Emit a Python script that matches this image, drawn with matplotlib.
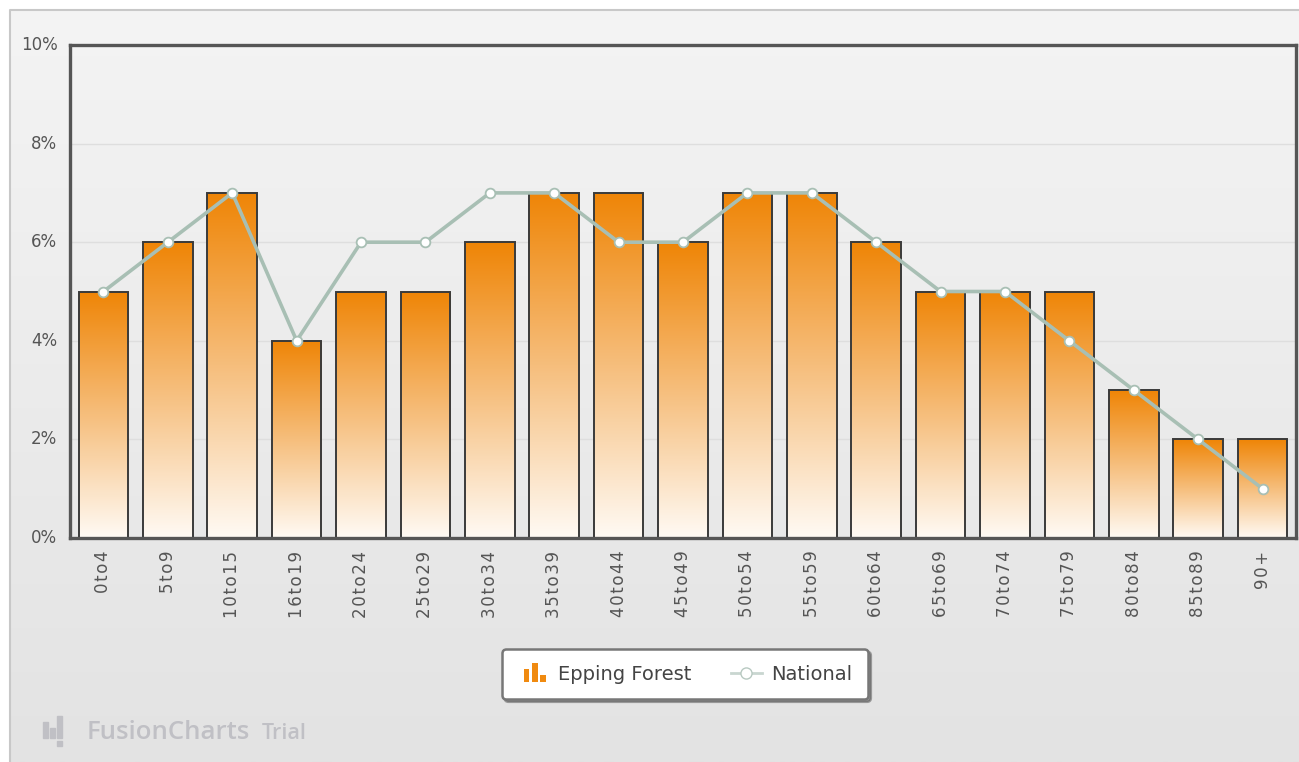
import numpy as np
import matplotlib
matplotlib.use("Agg")
import matplotlib.pyplot as plt
from matplotlib.patches import Rectangle
from matplotlib.lines import Line2D
from matplotlib.legend_handler import HandlerBase
from matplotlib.colors import LinearSegmentedColormap

categories = ["0to4", "5to9", "10to15", "16to19", "20to24", "25to29", "30to34",
              "35to39", "40to44", "45to49", "50to54", "55to59", "60to64", "65to69",
              "70to74", "75to79", "80to84", "85to89", "90+"]
epping = [5, 6, 7, 4, 5, 5, 6, 7, 7, 6, 7, 7, 6, 5, 5, 5, 3, 2, 2]
national = [5, 6, 7, 4, 6, 6, 7, 7, 6, 6, 7, 7, 6, 5, 5, 4, 3, 2, 1]
yticks = [0, 2, 4, 6, 8, 10]
ytick_labels = ["0%", "2%", "4%", "6%", "8%", "10%"]

W, H = 1299, 762
fig = plt.figure(figsize=(W / 100, H / 100), dpi=100)
fig.patch.set_facecolor("white")

# background axes in pixel coordinates
bg = fig.add_axes([0, 0, 1, 1], zorder=-5)
bg.set_xlim(0, W)
bg.set_ylim(H, 0)
bg.axis("off")
grad = np.linspace(0, 1, 256).reshape(-1, 1)
bg_cmap = LinearSegmentedColormap.from_list("bg", ["#f4f4f4", "#e3e3e3"])
bg.imshow(grad, extent=[10, W, H, 10], cmap=bg_cmap, aspect="auto", origin="upper")
bg.plot([10, 10, W], [H, 10, 10], color="#c8c8c8", lw=1.5)

# watermark
icon_col = "#c0c0c5"
bg.add_patch(Rectangle((43, 722), 5, 16, color=icon_col))
bg.add_patch(Rectangle((50, 728), 5, 10, color=icon_col))
bg.add_patch(Rectangle((57, 716), 5, 22, color=icon_col))
bg.add_patch(Rectangle((57, 741), 5, 5, color=icon_col))
bg.text(87, 739, "FusionCharts", fontsize=18.5, color=icon_col, va="baseline",
        ha="left", family="Open Sans", fontweight="semibold")
bg.text(262, 739, "Trial", fontsize=15.5, color=icon_col, va="baseline", ha="left",
        family="Open Sans", fontweight="semibold")

# main axes
L, R, T, B = 70, 1296, 45, 538
ax = fig.add_axes([L / W, 1 - B / H, (R - L) / W, (B - T) / H])
ax.set_facecolor("none")
x = np.arange(len(categories))
ax.set_xlim(-0.52, len(categories) - 0.48)
ax.set_ylim(0, 10)

for yv in yticks[1:-1]:
    ax.axhline(yv, color="#dedede", lw=1, zorder=0)

bar_cmap = LinearSegmentedColormap.from_list("bar", ["#fffaf4", "#f6be7c", "#ef8506"])
bars = ax.bar(x, epping, width=0.77, facecolor="none", edgecolor="#3a3a3a",
              linewidth=1.4, zorder=3)
for b in bars:
    x0, w, h = b.get_x(), b.get_width(), b.get_height()
    im = ax.imshow(grad, extent=[x0, x0 + w, 0, h], cmap=bar_cmap, aspect="auto",
                   origin="lower", zorder=2)
    im.set_clip_path(b)

line_col = "#a8bfb4"
ax.plot(x, national, color=line_col, lw=2.6, zorder=4, marker="o", markersize=7,
        markerfacecolor="white", markeredgecolor=line_col, markeredgewidth=1.3)

for side in ["left", "top", "right", "bottom"]:
    ax.spines[side].set_color("#555555")
    ax.spines[side].set_linewidth(2.4)
    ax.spines[side].set_zorder(5)

spaced = ["\u200a".join(c) for c in categories]
ax.set_yticks(yticks)
ax.set_yticklabels(ytick_labels)
ax.set_xticks(x)
ax.set_xticklabels(spaced, rotation=90, family="DejaVu Sans")
ax.tick_params(axis="y", length=0, pad=9, labelsize=12, labelcolor="#555555")
ax.tick_params(axis="x", length=0, pad=9, labelsize=12, labelcolor="#555555")
for lab in ax.get_yticklabels():
    lab.set_va("center")


class BarIconHandler(HandlerBase):
    def create_artists(self, legend, orig_handle, xdescent, ydescent, width, height,
                       fontsize, trans):
        arts = []
        bw = width / 5.5
        hs = [1.0, 1.45, 0.55]
        for i, hh in enumerate(hs):
            r = Rectangle((-xdescent + i * bw * 1.45 + width * 0.2, -ydescent - 2),
                          bw, height * hh, facecolor="#f08a10", edgecolor="none",
                          transform=trans)
            arts.append(r)
        return arts


bar_handle = Rectangle((0, 0), 1, 1, facecolor="#f08a10")
line_handle = Line2D([0], [0], color="#c9d6d0", lw=2, marker="o", markersize=8,
                     markerfacecolor="white", markeredgecolor="#b8c9c1")
leg = fig.legend([bar_handle, line_handle], ["Epping Forest", "National"],
                 loc="center", bbox_to_anchor=(685 / W, 1 - 674 / H), ncol=2,
                 fontsize=14, frameon=True, fancybox=True, shadow=True,
                 handler_map={Rectangle: BarIconHandler()},
                 handlelength=1.6, columnspacing=2.0, handletextpad=0.5,
                 borderpad=0.8, borderaxespad=0, labelcolor="#444444")
fr = leg.get_frame()
fr.set_edgecolor("#777777")
fr.set_linewidth(1.8)
fr.set_facecolor("white")
fr.set_alpha(1)
fr.set_boxstyle("round,pad=0,rounding_size=0.2")

fig.savefig("out.png", dpi=100)
